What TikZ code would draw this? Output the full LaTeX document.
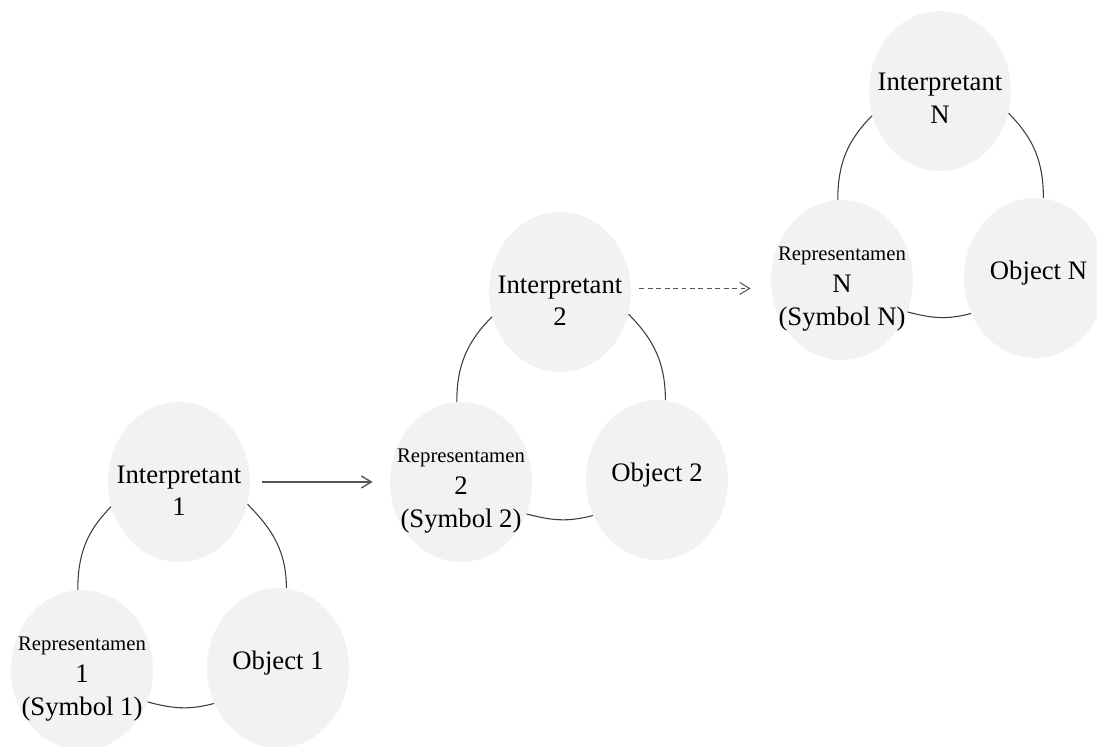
\documentclass[tikz,border=0pt]{standalone}
\usepackage{fontspec}
\setmainfont{Liberation Serif}
\usetikzlibrary{shapes.geometric, arrows.meta}

\definecolor{signfill}{HTML}{F2F2F2}
\definecolor{arcline}{HTML}{3A3A3A}
\definecolor{flowline}{HTML}{555555}
\newcommand{\repfont}{\fontsize{11.8}{14}\selectfont}

\begin{document}
\begin{tikzpicture}[x=0.02cm, y=0.02cm,
  sign/.style = {ellipse, fill=signfill, minimum width=2.84cm,
    minimum height=3.2cm, inner sep=0pt},
  lbl/.style = {align=center, inner sep=0pt,
    font=\fontsize{15.2}{18.5}\selectfont},
  triad/.style = {draw=arcline, line width=0.6pt},
  flow/.style = {draw=flowline, line width=0.8pt,
    -{Straight Barb[length=2mm, width=2.4mm]}}]
  \useasboundingbox (0,0) rectangle (1097,746);

  % first triad
  \node[sign, label={[lbl, yshift=-5pt]center:{Interpretant\\1}}] (i1) at (179,264) {};
  \node[sign, label={[lbl, yshift=-5pt]center:{{\repfont Representamen}\\1\\(Symbol 1)}}] (r1) at (82,76) {};
  \node[sign, label={[lbl, yshift=3pt]center:{Object 1}}] (o1) at (278,78) {};

  % second triad
  \node[sign, label={[lbl, yshift=-5pt]center:{Interpretant\\2}}] (i2) at (560,454) {};
  \node[sign, label={[lbl, yshift=-5pt]center:{{\repfont Representamen}\\2\\(Symbol 2)}}] (r2) at (461,264) {};
  \node[sign, label={[lbl, yshift=3pt]center:{Object 2}}] (o2) at (657,266) {};

  % last triad
  \node[sign, label={[lbl, yshift=-4pt]center:{Interpretant\\N}}] (iN) at (940,655) {};
  \node[sign, label={[lbl, yshift=-5pt]center:{{\repfont Representamen}\\N\\(Symbol N)}}] (rN) at (842,466) {};
  \node[sign, label={[lbl, yshift=3pt, xshift=2pt]center:{Object N}}] (oN) at (1035,468) {};

  \draw[triad] (r1.93) to[out=90, in=225] (i1.200);
  \draw[triad] (i1.-18) to[out=-45, in=90] (o1.84);
  \draw[triad] (r1.-26) to[out=-15, in=195] (o1.209);

  \draw[triad] (r2.93) to[out=90, in=225] (i2.200);
  \draw[triad] (i2.-18) to[out=-45, in=90] (o2.84);
  \draw[triad] (r2.-26) to[out=-15, in=195] (o2.209);

  \draw[triad] (rN.93) to[out=90, in=225] (iN.200);
  \draw[triad] (iN.-18) to[out=-45, in=90] (oN.84);
  \draw[triad] (rN.-26) to[out=-15, in=195] (oN.209);

  \draw[flow, shorten <=0.24cm, shorten >=0.34cm] (i1.east) -- (i1.east -| r2.west);
  \draw[flow, line width=0.6pt, dash pattern=on 2.8pt off 2pt,
    shorten <=0.16cm, shorten >=0.4cm] ([yshift=2pt]i2.east) -- ([yshift=2pt]i2.east -| rN.west);
\end{tikzpicture}
\end{document}
